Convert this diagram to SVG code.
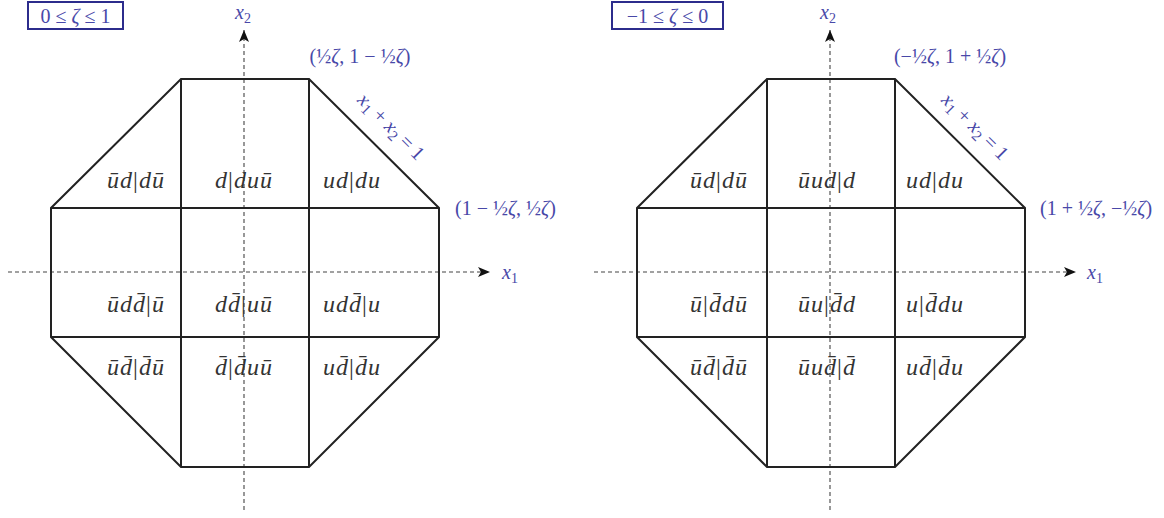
<svg xmlns="http://www.w3.org/2000/svg" width="1164" height="518" viewBox="0 0 1164 518">
<defs>
<style>
.oct{fill:none;stroke:#222;stroke-width:2;stroke-linejoin:miter}
.ax{fill:none;stroke:#444;stroke-width:1.1;stroke-dasharray:4 3}
.m{font-family:"Liberation Serif",serif;font-style:italic;font-size:24px;letter-spacing:1px;fill:#333;text-anchor:middle}
.up{font-style:normal}
.b{font-family:"Liberation Serif",serif;font-style:italic;font-size:20px;fill:#4848a8}
.bn{font-style:normal}
.box{fill:none;stroke:#2c2c8c;stroke-width:2}
</style>
<marker id="arr" markerUnits="userSpaceOnUse" markerWidth="14" markerHeight="12" refX="12" refY="5" orient="auto">
<path d="M0,0 L12,5 L0,10 L3,5 z" fill="#111"/>
</marker>
<g id="octShape">
<path class="oct" d="M181,79 L309,79 L439,208 L439,337 L309,467 L181,467 L51,337 L51,208 Z"/>
<path class="oct" d="M181,79 V467 M309,79 V467 M51,208 H439 M51,337 H439"/>
</g>
</defs>

<g id="panel-left">
<g id="axes-left">
<line class="ax" x1="8" y1="272" x2="490" y2="272" marker-end="url(#arr)"/>
<line class="ax" x1="244" y1="510" x2="244" y2="30" marker-end="url(#arr)"/>
<text class="b" x="502" y="279">x<tspan class="bn" dy="4" font-size="14">1</tspan></text>
<text class="b" x="235" y="19">x<tspan class="bn" dy="4" font-size="14">2</tspan></text>
</g>
<g id="octagon-left"><use href="#octShape"/></g>
<g id="range-left">
<rect class="box" x="28" y="2" width="95" height="27"/>
<text class="b" x="75.5" y="23" text-anchor="middle" font-size="22"><tspan class="bn">0 ≤ </tspan>ζ<tspan class="bn"> ≤ 1</tspan></text>
</g>
<g id="labels-left">
<text class="b" x="360" y="63" text-anchor="middle"><tspan class="bn">(½</tspan>ζ<tspan class="bn">, 1 − ½</tspan>ζ<tspan class="bn">)</tspan></text>
<text class="b" x="455" y="215"><tspan class="bn">(1 − ½</tspan>ζ<tspan class="bn">, ½</tspan>ζ<tspan class="bn">)</tspan></text>
<text class="b" x="391" y="133" text-anchor="middle" font-size="22" transform="rotate(45 391 127)">x<tspan class="bn" dy="4" font-size="15">1</tspan><tspan class="bn" dy="-4"> + </tspan>x<tspan class="bn" dy="4" font-size="15">2</tspan><tspan class="bn" dy="-4"> = 1</tspan></text>
</g>
<g id="cells-left">
<text class="m" x="136" y="188">ūd<tspan class="up">|</tspan>dū</text>
<text class="m" x="244" y="188">d<tspan class="up">|</tspan>duū</text>
<text class="m" x="352" y="188">ud<tspan class="up">|</tspan>du</text>
<text class="m" x="136" y="312">ūdd̄<tspan class="up">|</tspan>ū</text>
<text class="m" x="244" y="312">dd̄<tspan class="up">|</tspan>uū</text>
<text class="m" x="352" y="312">udd̄<tspan class="up">|</tspan>u</text>
<text class="m" x="136" y="375">ūd̄<tspan class="up">|</tspan>d̄ū</text>
<text class="m" x="244" y="375">d̄<tspan class="up">|</tspan>d̄uū</text>
<text class="m" x="352" y="375">ud̄<tspan class="up">|</tspan>d̄u</text>
</g>
</g>

<g id="panel-right">
<g id="axes-right">
<line class="ax" x1="594" y1="272" x2="1076" y2="272" marker-end="url(#arr)"/>
<line class="ax" x1="830" y1="510" x2="830" y2="30" marker-end="url(#arr)"/>
<text class="b" x="1087" y="279">x<tspan class="bn" dy="4" font-size="14">1</tspan></text>
<text class="b" x="820" y="19">x<tspan class="bn" dy="4" font-size="14">2</tspan></text>
</g>
<g id="octagon-right"><use href="#octShape" x="586"/></g>
<g id="range-right">
<rect class="box" x="612" y="2" width="111" height="27"/>
<text class="b" x="667.5" y="23" text-anchor="middle" font-size="22"><tspan class="bn">−1 ≤ </tspan>ζ<tspan class="bn"> ≤ 0</tspan></text>
</g>
<g id="labels-right">
<text class="b" x="950" y="63" text-anchor="middle"><tspan class="bn">(−½</tspan>ζ<tspan class="bn">, 1 + ½</tspan>ζ<tspan class="bn">)</tspan></text>
<text class="b" x="1040" y="215"><tspan class="bn">(1 + ½</tspan>ζ<tspan class="bn">, −½</tspan>ζ<tspan class="bn">)</tspan></text>
<text class="b" x="975" y="133" text-anchor="middle" font-size="22" transform="rotate(45 975 127)">x<tspan class="bn" dy="4" font-size="15">1</tspan><tspan class="bn" dy="-4"> + </tspan>x<tspan class="bn" dy="4" font-size="15">2</tspan><tspan class="bn" dy="-4"> = 1</tspan></text>
</g>
<g id="cells-right">
<text class="m" x="719" y="188">ūd<tspan class="up">|</tspan>dū</text>
<text class="m" x="827" y="188">ūud<tspan class="up">|</tspan>d</text>
<text class="m" x="935" y="188">ud<tspan class="up">|</tspan>du</text>
<text class="m" x="719" y="312">ū<tspan class="up">|</tspan>d̄dū</text>
<text class="m" x="827" y="312">ūu<tspan class="up">|</tspan>d̄d</text>
<text class="m" x="935" y="312">u<tspan class="up">|</tspan>d̄du</text>
<text class="m" x="719" y="375">ūd̄<tspan class="up">|</tspan>d̄ū</text>
<text class="m" x="827" y="375">ūud̄<tspan class="up">|</tspan>d̄</text>
<text class="m" x="935" y="375">ud̄<tspan class="up">|</tspan>d̄u</text>
</g>
</g>
</svg>
